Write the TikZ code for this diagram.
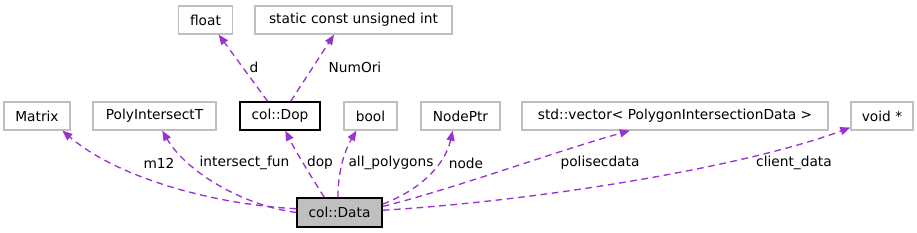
\documentclass[tikz,border=0pt]{standalone}
\usepackage{fontspec}
\setmainfont{DejaVu Sans}
\definecolor{edgepurple}{HTML}{9A32CD}
\definecolor{boxgray}{HTML}{BFBFBF}
\usetikzlibrary{arrows.meta}
\tikzset{
  box/.style={rectangle,draw=boxgray,fill=white,line width=1pt,
              minimum width=#1*0.75pt,minimum height=21pt,inner sep=0pt,
              font=\fontsize{10.3}{12}\selectfont},
  box/.default=60,
  classbox/.style={box=#1,draw=black},
  mainbox/.style={box=#1,draw=black,fill=boxgray},
  member/.style={-{Triangle[length=7.5pt,width=6pt]},edgepurple,
                 line width=1pt,dash pattern=on 5pt off 3.5pt},
  memlabel/.style={inner sep=1pt,font=\fontsize{10.3}{12}\selectfont},
}
\begin{document}
\begin{tikzpicture}[x=0.75pt,y=-0.75pt]
  \useasboundingbox (0,0) rectangle (917,232);
  % types
  \node[box=54]  (float)  at (205.5,20) {float};
  \node[box=197] (static) at (353.5,20) {static const unsigned int};
  \foreach \n/\x/\w/\t in {matrix/37/66/Matrix,
                           poly/154.5/123/PolyIntersectT,
                           bool/370.5/53/bool,
                           nodeptr/460.5/79/NodePtr,
                           vec/675/306/std::vector< PolygonIntersectionData >,
                           void/882/62/void *}{
    \node[box=\w] (\n) at (\x,116) {\t};
  }
  \node[classbox=80] (dop)  at (280,116)   {col::Dop};
  \node[mainbox=85,minimum height=21.75pt] (data) at (339.5,212.5) {col::Data};
  % members of col::Dop
  \draw[member] (dop.130) -- (float.-48);
  \draw[member] (dop.54) -- (static.-143);
  % members of col::Data
  \draw[member] (data.175) .. controls (220,205) and (120,180) .. (matrix.-30);
  \draw[member] (data.180) .. controls (240,205) and (185,170) .. (poly.-62);
  \draw[member] (data.135) .. controls (312,178) and (296,152) .. (dop.-70);
  \draw[member] (data.96) .. controls (338,170) and (345,150) .. (bool.-134);
  \draw[member] (data.11) .. controls (420,190) and (445,165) .. (nodeptr.-118);
  \draw[member] (data.8) .. controls (450,190) and (560,150) .. (vec.-162.7);
  \draw[member] (data.3) .. controls (550,200) and (750,165) .. (void.-160);
  % labels
  \node[memlabel] (lbl-d)      at (254,67)  {d};
  \node[memlabel] (lbl-numori) at (355,67)  {NumOri};
  \node[memlabel] (lbl-m12)    at (159,163) {m12};
  \node[memlabel] (lbl-ifun)   at (244.5,163) {intersect\_fun};
  \node[memlabel] (lbl-dop)    at (320,163) {dop};
  \node[memlabel] (lbl-allp)   at (391,163) {all\_polygons};
  \node[memlabel] (lbl-node)   at (466,163) {node};
  \node[memlabel] (lbl-polis)  at (600,163) {polisecdata};
  \node[memlabel] (lbl-client) at (794,163) {client\_data};
\end{tikzpicture}
\end{document}
